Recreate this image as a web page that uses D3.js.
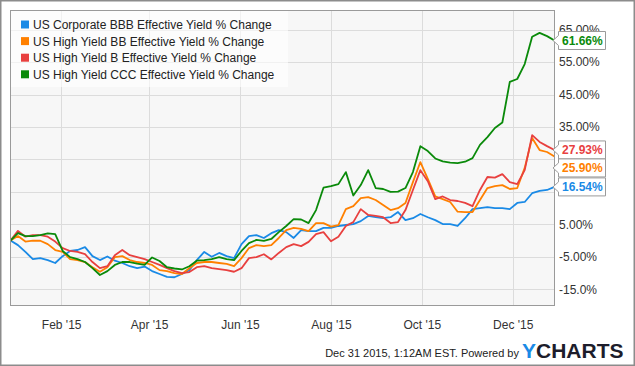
<!DOCTYPE html>
<meta charset="utf-8">
<script src="https://d3js.org/d3.v7.min.js"></script>
<style>
  body { margin: 0; background: #fff; }
  text { font-family: "Liberation Sans", Arial, sans-serif; }
</style>
<div id="chart"></div>
<script>

// sample dates (every 5 days)
var dates = ["2014-12-29","2015-01-03","2015-01-08","2015-01-13","2015-01-18","2015-01-23","2015-01-28",
  "2015-02-02","2015-02-07","2015-02-12","2015-02-17","2015-02-22","2015-02-27",
  "2015-03-04","2015-03-09","2015-03-14","2015-03-19","2015-03-24","2015-03-29",
  "2015-04-03","2015-04-08","2015-04-13","2015-04-18","2015-04-23","2015-04-28",
  "2015-05-03","2015-05-08","2015-05-13","2015-05-18","2015-05-23","2015-05-28",
  "2015-06-02","2015-06-07","2015-06-12","2015-06-17","2015-06-22","2015-06-27",
  "2015-07-02","2015-07-07","2015-07-12","2015-07-17","2015-07-22","2015-07-27",
  "2015-08-01","2015-08-06","2015-08-11","2015-08-16","2015-08-21","2015-08-26","2015-08-31",
  "2015-09-05","2015-09-10","2015-09-15","2015-09-20","2015-09-25","2015-09-30",
  "2015-10-05","2015-10-10","2015-10-15","2015-10-20","2015-10-25","2015-10-30",
  "2015-11-04","2015-11-09","2015-11-14","2015-11-19","2015-11-24","2015-11-29",
  "2015-12-04","2015-12-09","2015-12-14","2015-12-19","2015-12-24","2015-12-29"];

var bbb = [0,-1.4,-3.5,-5.7,-5.4,-6.0,-6.9,-4.8,-3.2,-2.9,
  -2.0,-4.8,-6.0,-4.9,-6.2,-6.9,-7.9,-8.5,-8.0,-9.4,
  -10.3,-11.2,-11.3,-10.3,-9.1,-6.0,-3.5,-5.0,-3.8,-4.8,
  -5.4,-1.1,1.4,1.7,0.8,2.3,3.2,2.6,0.8,3.2,
  2.9,2.9,3.9,3.9,4.5,4.8,5.1,6.0,7.6,7.2,
  6.9,7.2,8.8,6.3,6.9,8.2,7.2,6.3,5.1,5.1,
  4.5,6.9,9.7,10.0,10.3,10.0,10.0,9.7,11.6,11.9,
  14.6,15.3,15.6,16.54];

var bb = [0,1.4,-0.3,0,-0.05,-1.1,-2.9,-3.5,-5.7,-6.0,
  -6.6,-8.2,-9.6,-8.2,-5.1,-4.8,-6.0,-6.6,-6.9,-7.5,
  -9.1,-9.4,-10.0,-10.3,-8.5,-6.9,-6.6,-6.6,-6.9,-7.2,
  -7.9,-5.4,-2.3,-1.4,-1.7,-1.4,0.8,3.2,3.9,3.6,
  2.9,5.4,5.4,4.3,4.8,9.7,10.6,13.1,13.4,12.5,
  11.0,9.4,10.0,11.6,18.0,24.2,19.0,13.6,12.8,11.9,
  8.9,8.8,8.8,12.5,16.2,16.8,17.1,15.9,16.2,22.4,
  31.6,27.9,27.3,25.90];

var b = [0,3.0,1.2,1.7,1.7,1.2,-0.3,-2.3,-3.2,-3.5,
  -4.2,-6.6,-8.5,-7.9,-4.5,-2.9,-4.5,-5.1,-5.7,-6.6,
  -7.5,-8.5,-9.4,-10.0,-9.7,-8.2,-7.9,-8.5,-8.8,-9.1,
  -9.6,-8.5,-5.4,-5.1,-4.2,-5.8,-3.8,-2.0,-1.1,-1.7,
  -0.4,2.0,2.6,-0.2,1.2,4.5,5.7,9.7,7.9,7.6,
  7.2,5.4,5.7,9.4,15.6,21.7,18.3,12.8,13.6,12.5,
  12.2,11.6,10.6,15.6,19.6,19.4,20.5,18.0,17.4,21.7,
  32.5,30.4,29.1,27.93];

var ccc = [0,2.3,1.4,1.4,1.7,2.2,2.0,-3.2,-5.1,-5.7,
  -6.6,-8.5,-10.6,-9.4,-7.5,-6.6,-6.6,-7.1,-7.5,-5.2,
  -6.3,-8.2,-8.6,-8.9,-7.9,-6.2,-6.0,-5.7,-5.1,-5.7,
  -6.0,-3.2,-0.8,0.2,-0.1,0.5,2.6,4.5,6.6,6.5,
  5.4,9.4,16.3,16.8,17.4,21.1,13.9,17.1,21.7,16.2,
  15.9,15.0,15.1,16.2,21.1,29.1,27.6,25.3,24.4,24.0,
  23.9,24.3,25.4,29.5,31.9,34.7,36.4,48.9,49.8,54.4,
  62.8,64.0,63.0,61.66];

var seriesNames = ["US Corporate BBB Effective Yield % Change",
  "US High Yield BB Effective Yield % Change",
  "US High Yield B Effective Yield % Change",
  "US High Yield CCC Effective Yield % Change"];
var seriesColors = ["#1a8ae6", "#ff8000", "#e8403f", "#0a8a0a"];
var seriesValues = [bbb, bb, b, ccc];

// 25% and 15% labels sit behind the value tags, so they are not shown
var yTicks = [65, 55, 45, 35, 25, 15, 5, -5, -15];
var yTickLabels = ["65.00%","55.00%","45.00%","35.00%","","","5.00%","-5.00%","-15.0%"];
var xTicks = ["2015-02-01","2015-04-01","2015-06-01","2015-08-01","2015-10-01","2015-12-01"];

var W = 635, H = 366;
var plot = {left: 10.5, top: 10.5, right: 554.5, bottom: 305.5};

var parse = d3.timeParse("%Y-%m-%d");
var dd = dates.map(parse);

var svg = d3.select("#chart").append("svg")
    .attr("width", W)
    .attr("height", H);

// outer frame
svg.append("rect")
    .attr("x", 0.75).attr("y", 0.75)
    .attr("width", W - 1.5).attr("height", H - 1.5)
    .attr("fill", "#fff")
    .attr("stroke", "#8c8c8c")
    .attr("stroke-width", 1.5);

var x = d3.scaleTime()
    .domain([dd[0], dd[dd.length - 1]])
    .range([plot.left, plot.right]);

var y = d3.scaleLinear()
    .domain([-20, 70.9])
    .range([plot.bottom, plot.top]);

// plot background
svg.append("rect")
    .attr("x", plot.left).attr("y", plot.top)
    .attr("width", plot.right - plot.left)
    .attr("height", plot.bottom - plot.top)
    .attr("fill", "#f7f7f7");

// grid
svg.append("g").selectAll("line")
  .data(yTicks)
  .enter().append("line")
    .attr("x1", plot.left).attr("x2", plot.right)
    .attr("y1", function(d) { return Math.round(y(d)) + 0.5; })
    .attr("y2", function(d) { return Math.round(y(d)) + 0.5; })
    .attr("stroke", "#dcdcdc");

svg.append("g").selectAll("line")
  .data(xTicks.map(parse))
  .enter().append("line")
    .attr("x1", function(d) { return Math.round(x(d)) + 0.5; })
    .attr("x2", function(d) { return Math.round(x(d)) + 0.5; })
    .attr("y1", plot.top).attr("y2", plot.bottom)
    .attr("stroke", "#dcdcdc");

// lines
var line = d3.line()
    .x(function(d, i) { return x(dd[i]); })
    .y(function(d) { return y(d); });

seriesValues.forEach(function(vals, k) {
  svg.append("path")
      .datum(vals)
      .attr("d", line)
      .attr("fill", "none")
      .attr("stroke", seriesColors[k])
      .attr("stroke-width", 1.8)
      .attr("stroke-linejoin", "round");
});

// plot border
svg.append("rect")
    .attr("x", plot.left).attr("y", plot.top)
    .attr("width", plot.right - plot.left)
    .attr("height", plot.bottom - plot.top)
    .attr("fill", "none")
    .attr("stroke", "#9a9a9a");

// x axis
var xAxis = svg.append("g")
    .attr("transform", "translate(0," + plot.bottom + ")")
    .call(d3.axisBottom(x)
      .tickValues(xTicks.map(parse))
      .tickFormat(d3.timeFormat("%b '%y"))
      .tickSize(0)
      .tickPadding(15));
xAxis.select(".domain").remove();
xAxis.selectAll("text")
    .style("font-family", "'Liberation Sans', Arial, sans-serif")
    .style("font-size", "12px")
    .attr("fill", "#333");

// y axis
var yAxis = svg.append("g")
    .attr("transform", "translate(" + plot.right + ",0)")
    .call(d3.axisRight(y)
      .tickValues(yTicks)
      .tickFormat(function(d, i) { return yTickLabels[i]; })
      .tickSize(0)
      .tickPadding(4.5));
yAxis.select(".domain").remove();
yAxis.selectAll("text")
    .style("font-family", "'Liberation Sans', Arial, sans-serif")
    .style("font-size", "12px")
    .attr("fill", "#333");

// legend
svg.append("rect")
    .attr("x", 11).attr("y", 11)
    .attr("width", 277).attr("height", 76)
    .attr("fill", "#fff")
    .attr("fill-opacity", 0.6);

var legend = svg.append("g").selectAll("g")
  .data(seriesNames)
  .enter().append("g")
    .attr("transform", function(d, i) { return "translate(21," + (20.5 + i * 16.6) + ")"; });
legend.append("rect")
    .attr("width", 8).attr("height", 8)
    .attr("fill", function(d, i) { return seriesColors[i]; });
legend.append("text")
    .attr("x", 12).attr("y", 8.5)
    .style("font-size", "12px")
    .attr("fill", "#222")
    .text(function(d) { return d; });

// last value tags
var tags = seriesValues.map(function(vals, k) {
  var v = vals[vals.length - 1];
  return {v: v, k: k, ty: y(v)};
});
tags.sort(function(a, b) { return a.ty - b.ty; });
for (var i = 1; i < tags.length; i++) {
  if (tags[i].ty < tags[i - 1].ty + 18) tags[i].ty = tags[i - 1].ty + 18;
}
var tagG = svg.append("g").selectAll("g")
  .data(tags)
  .enter().append("g")
    .attr("transform", function(d) { return "translate(0," + d.ty + ")"; });
tagG.append("path")
    .attr("d", "M553,0 L558.5,-5 L558.5,-9 L605.5,-9 L605.5,9 L558.5,9 L558.5,5 Z")
    .attr("fill", "#fff")
    .attr("stroke", "#9a9a9a");
tagG.append("text")
    .attr("x", 562).attr("y", 4.5)
    .style("font-size", "12px")
    .style("font-weight", "bold")
    .attr("fill", function(d) { return seriesColors[d.k]; })
    .text(function(d) { return d.v.toFixed(2) + "%"; });

// footer
svg.append("text")
    .attr("x", 519).attr("y", 357)
    .attr("text-anchor", "end")
    .style("font-size", "11px")
    .attr("fill", "#222")
    .text("Dec 31 2015, 1:12AM EST. Powered by");
var logo = svg.append("text")
    .attr("x", 522).attr("y", 357.5)
    .style("font-size", "21px")
    .style("font-weight", "bold");
logo.append("tspan").attr("fill", "#1a8ae6").text("Y");
logo.append("tspan").attr("fill", "#1d1d2b").text("CHARTS");

</script>
